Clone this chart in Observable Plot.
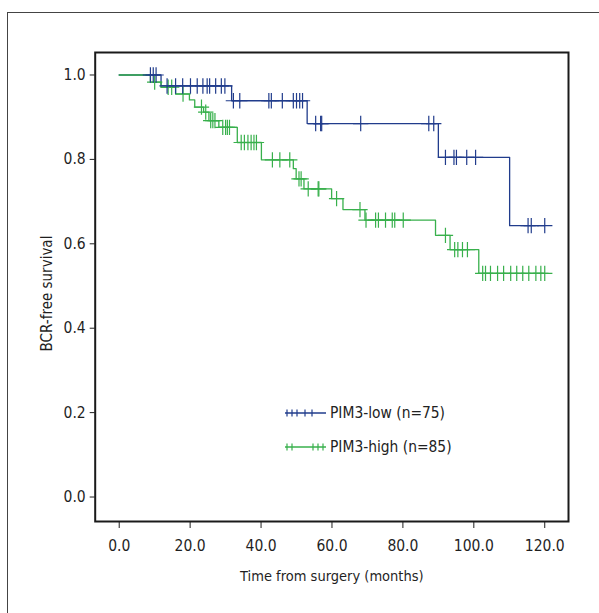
<!DOCTYPE html>
<html><head><meta charset="utf-8">
<script src="https://cdn.jsdelivr.net/npm/d3@7"></script>
<script src="https://cdn.jsdelivr.net/npm/@observablehq/plot@0.6"></script>
<style>
html,body{margin:0;padding:0;background:#fff;}
#wrap{position:relative;width:599px;height:613px;overflow:hidden;font-family:"DejaVu Sans Condensed","DejaVu Sans",sans-serif;font-stretch:condensed;}
#chart{position:absolute;left:0;top:0;}
#outer{position:absolute;left:7px;top:12px;width:700px;height:700px;border-left:1px solid #444;border-top:1px solid #444;pointer-events:none;}
#legend{position:absolute;left:283px;top:396.6px;font-size:15.4px;color:#222;}
#legend .row{display:flex;align-items:center;height:33.4px;}
#legend svg{display:block;}
</style></head><body>
<div id="wrap"><div id="chart"></div><div id="outer"></div><div id="legend"></div></div>
<script>
// ---- data ----
const groups = ["PIM3-low (n=75)", "PIM3-high (n=85)"];
const colors = ["#213c8c", "#38b04c"];
const xTicks = [0, 20, 40, 60, 80, 100, 120];
const yTicks = [0, 0.2, 0.4, 0.6, 0.8, 1.0];

const lowEventTimes = [11.8, 31.7, 53.0, 90.0, 110.1];
const lowSurvival   = [0.974, 0.939, 0.885, 0.805, 0.643];
const lowCensorTimes = [8.8, 9.6, 10.4, 13.5, 15.9, 17.9, 20.1, 22.0, 23.6, 24.8, 25.5, 27.2, 28.8, 29.8,
  32.2, 34.0, 42.2, 42.9, 46.0, 49.1, 50.0, 50.9, 51.7, 55.4, 56.8, 57.1, 68.1, 87.3, 88.7,
  92.0, 94.4, 95.1, 98.0, 100.5, 115.3, 116.2, 120.0];

const highEventTimes = [8.8, 11.8, 15.9, 19.8, 21.3, 23.8, 25.3, 28.1, 33.3, 40.1, 49.1, 49.9, 52.1,
  59.9, 63.1, 69.3, 89.2, 93.3, 101.4];
const highSurvival   = [0.983, 0.971, 0.955, 0.941, 0.924, 0.912, 0.892, 0.876, 0.840, 0.799, 0.778,
  0.754, 0.730, 0.707, 0.681, 0.656, 0.620, 0.586, 0.530];
const highCensorTimes = [10.0, 13.8, 14.8, 18.0, 23.2, 24.4, 25.8, 26.4, 27.0, 29.2, 30.0, 30.5, 31.1,
  34.4, 35.3, 36.3, 37.2, 38.0, 38.7, 43.2, 45.3, 48.1, 50.7, 51.3, 53.3, 56.1, 56.3, 61.3, 67.9,
  69.6, 72.3, 73.1, 75.1, 77.0, 77.7, 80.1, 92.0, 94.6, 95.5, 96.8, 98.2, 102.5, 103.3, 104.7,
  106.7, 108.4, 110.4, 112.1, 113.8, 115.5, 117.5, 118.9, 120.0];

// ---- build tables ----
function steps(times, surv, censor) {
  const rows = [{t: 0, s: 1}];
  times.forEach((t, i) => rows.push({t, s: surv[i]}));
  rows.push({t: d3.max(censor), s: surv[surv.length - 1]});
  return rows;
}
function survAt(times, surv, t) {
  let s = 1;
  times.forEach((e, i) => { if (e <= t) s = surv[i]; });
  return s;
}
const lowSteps = steps(lowEventTimes, lowSurvival, lowCensorTimes);
const highSteps = steps(highEventTimes, highSurvival, highCensorTimes);
const lowCens = lowCensorTimes.map(t => ({t, s: survAt(lowEventTimes, lowSurvival, t)}));
const highCens = highCensorTimes.map(t => ({t, s: survAt(highEventTimes, highSurvival, t)}));

const fmt = d => d.toFixed(1);
const chart = Plot.plot({
  width: 599, height: 613,
  marginLeft: 94.7, marginRight: 31, marginTop: 52, marginBottom: 92,
  style: {fontFamily: '"DejaVu Sans Condensed","DejaVu Sans",sans-serif', fontStretch: "condensed", fontSize: "15px", color: "#1f1f1f"},
  x: {domain: [-6.77, 126.7]},
  y: {domain: [-0.058, 1.0533]},
  marks: [
    Plot.axisX({ticks: xTicks, tickFormat: fmt, tickSize: 7, tickPadding: 11, fontSize: 15.5,
      label: "Time from surgery (months)", labelAnchor: "center", labelOffset: 59, labelArrow: "none"}),
    Plot.axisX({ticks: [], label: null}),
    Plot.axisY({ticks: yTicks, tickFormat: fmt, tickSize: 5, tickPadding: 4.5, fontSize: 15.5, label: null}),
    Plot.text(["BCR-free survival"], {frameAnchor: "left", textAnchor: "middle", rotate: -90, dx: -48, dy: 6.5, fontSize: 15, lineAnchor: "middle"}),
    Plot.line(lowSteps, {x: "t", y: "s", curve: "step-after", stroke: colors[0], strokeWidth: 1.3}),
    Plot.line(highSteps, {x: "t", y: "s", curve: "step-after", stroke: colors[1], strokeWidth: 1.3}),
    Plot.dot(highCens, {x: "t", y: "s", symbol: "plus", r: 5, stroke: colors[1], strokeWidth: 1.2}),
    Plot.dot(lowCens, {x: "t", y: "s", symbol: "plus", r: 5, stroke: colors[0], strokeWidth: 1.2}),
    Plot.frame({stroke: "#1a1a1a", strokeWidth: 2})
  ]
});
chart.querySelectorAll("text").forEach(t => {
  if (t.textContent === "Time from surgery (months)") t.setAttribute("font-size", "14.5");
});
document.getElementById("chart").appendChild(chart);

// ---- legend ----
const legendMarks = [[4, 9, 14, 22, 29], [4, 9, 30, 35, 40]];
const legend = document.getElementById("legend");
groups.forEach((g, i) => {
  const row = document.createElement("div");
  row.className = "row";
  const ticks = legendMarks[i].map(x => `<line x1="${x}" x2="${x}" y1="4.5" y2="11.5" stroke="${colors[i]}" stroke-width="1.2"/>`).join("");
  row.innerHTML = `<svg width="47" height="16"><line x1="2" x2="43" y1="8" y2="8" stroke="${colors[i]}" stroke-width="1.3"/>${ticks}</svg><span>${g}</span>`;
  legend.appendChild(row);
});
</script>
</body></html>
